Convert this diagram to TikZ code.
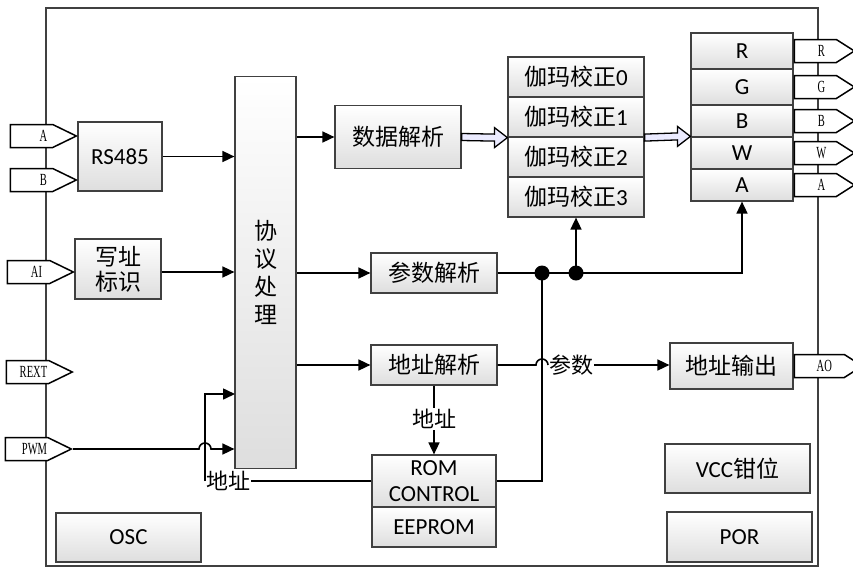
\documentclass[tikz,border=0pt]{standalone}
\usepackage{fontspec}
\usepackage{graphicx}
\setmainfont{Carlito}
\newfontfamily\cjk{Noto Sans CJK SC}
\newfontfamily\portfont{Liberation Serif}
\usepackage{tikz}
\usetikzlibrary{calc, positioning, shapes.symbols, arrows.meta}

\newcommand\zh[1]{{\cjk #1}}
\newcommand\pl[1]{\scalebox{0.62}[1]{\portfont\fontsize{17}{17}\selectfont #1}}
\newcommand\pin[2]{\makebox[0pt]{\hspace{#1}\pl{#2}}}
% hollow wide arrow between two anchors
\newcommand\fatarrow[2]{\draw[line width=1.3pt, fill=blue!8, line join=miter]
  ($(#1)+(0,-3.5)$) -- ($(#2)+(-13,-3.5)$) -- ($(#2)+(-13,-10)$) -- (#2)
  -- ($(#2)+(-13,10)$) -- ($(#2)+(-13,3.5)$) -- ($(#1)+(0,3.5)$) -- cycle;}

\tikzset{
  blk/.style={draw=black!75, line width=1.2pt, top color=white, bottom color=black!13,
    minimum width=126pt, minimum height=40pt, inner sep=0pt, align=center,
    font=\fontsize{23}{28}\selectfont},
  inport/.style={signal, signal to=east, draw=black, line width=1.5pt, fill=white,
    minimum width=66pt, minimum height=23pt, inner sep=0pt, signal pointer angle=52, anchor=east},
  outport/.style={inport, signal pointer angle=65, minimum width=60pt, anchor=west},
  wire/.style={line width=1.6pt},
  arr/.style={wire, -{Triangle[length=12pt,width=11pt]}},
  lbl/.style={fill=white, inner sep=1pt, font=\cjk\fontsize{22}{22}\selectfont},
}

\begin{document}
\begin{tikzpicture}[x=1pt, y=-1pt]
    \useasboundingbox (0,0) rectangle (853,568);
    % --- chip frame
    \draw[draw=black!75, line width=1.3pt] (46,8) rectangle (818,566);

    % --- left side blocks
    \node[blk, minimum width=84pt, minimum height=69pt] (rs) at (120,156.5) {RS485};
    \node[blk, minimum width=86pt, minimum height=60pt, font=\cjk\fontsize{23}{25}\selectfont]
        (wa) at (118,269) {写址\\标识};
    \node[blk, minimum width=61pt, minimum height=392pt, font=\cjk\fontsize{23}{28}\selectfont]
        (proto) at (265.5,272.5) {协\\议\\处\\理};
    \node[blk, minimum width=145pt, minimum height=49pt] (osc) at (128.5,537.5) {OSC};

    % --- middle blocks
    \node[blk, minimum height=63pt] (data) at (398,137) {\zh{数据解析}};
    \node[blk] (param) at (434,273) {\zh{参数解析}};
    \node[blk] (addr) at (434,365) {\zh{地址解析}};
    \node[blk, minimum width=124pt, minimum height=52pt, font=\fontsize{23}{26}\selectfont]
        (rom) at (434,481) {ROM\\CONTROL};
    \node[blk, minimum width=124pt] (eep) at (434,527) {EEPROM};
    \foreach \i in {0,...,3}
        \node[blk, minimum width=136pt] (g\i) at (576,77+40*\i) {\zh{伽玛校正}\i};

    % --- right side blocks
    \foreach \n/\y/\h in {R/51/36pt, G/87/36pt, B/121/32pt, W/153/32pt, A/185/32pt} {
        \node[blk, minimum width=102pt, minimum height=\h] (o\n) at (742,\y) {\n};
        \node[outport] (p\n) at (o\n.east) {\pin{12pt}{\n}};
    }
    \node[blk, minimum width=123pt, minimum height=46pt] (aout) at (731.5,366) {\zh{地址输出}};
    \node[outport, minimum width=68pt] (pao) at (aout.east) {\pin{10pt}{AO}};
    \node[blk, minimum width=145pt, minimum height=49pt] (vcc) at (737.5,468.5) {VCC\zh{钳位}};
    \node[blk, minimum width=145pt, minimum height=50pt] (por) at (739.5,537) {POR};

    % --- input pins
    \node[inport] (pa) at (78,136) {\pin{24pt}{A}};
    \node[inport] (pb) at (78,180) {\pin{24pt}{B}};
    \node[inport] (pai) at (75,272) {\pin{16pt}{AI}};
    \node[inport] (prext) at (74,372) {\pin{12pt}{REXT}};
    \node[inport] (ppwm) at (73,449) {\pin{16pt}{PWM}};

    % --- connections
    \draw[arr] (rs) -- (rs -| proto.west);
    \draw[arr] (pai.east -| wa.east) -- (pai.east -| proto.west);
    \draw[arr] (data -| proto.east) -- (data.west);
    \draw[arr] (param -| proto.east) -- (param.west);
    \draw[arr] (addr -| proto.east) -- (addr.west);
    \fatarrow{data.east}{g1.south west}
    \fatarrow{g1.south east}{oW.north west}

    \coordinate (j1) at (542,273);
    \coordinate (j2) at (g3 |- param);
    \draw[arr] (param.east) -| (oA.south);
    \draw[arr] (j2) -- (g3.south);
    \draw[wire] (rom.east) -| (j1);
    \fill (j1) circle (7.5);
    \fill (j2) circle (7.5);

    \node[lbl, anchor=west] (pm) at (548,365) {参数};
    \draw[wire] (addr.east) -- ($(j1 |- addr)+(-6,0)$) arc[start angle=180, end angle=360, radius=6] -- (pm.west);
    \draw[arr] (pm.east) -- (pm.east -| aout.west);

    \node[lbl] (al) at (434,419) {地址};
    \draw[wire] (addr.south) -- (al.north);
    \draw[arr] (al.south) -- (rom.north);

    \node[lbl, anchor=west] (lb) at (205,481) {地址};
    \coordinate (pin) at (235,394);
    \draw[wire] (rom.west) -- (lb.east);
    \draw[arr] (lb.west) -- (lb.west |- pin) -- (pin);
    \draw[arr] (ppwm.east) -- ($(lb.west |- ppwm)+(-6,0)$) arc[start angle=180, end angle=360, radius=6]
        -- (ppwm -| proto.west);
\end{tikzpicture}
\end{document}
